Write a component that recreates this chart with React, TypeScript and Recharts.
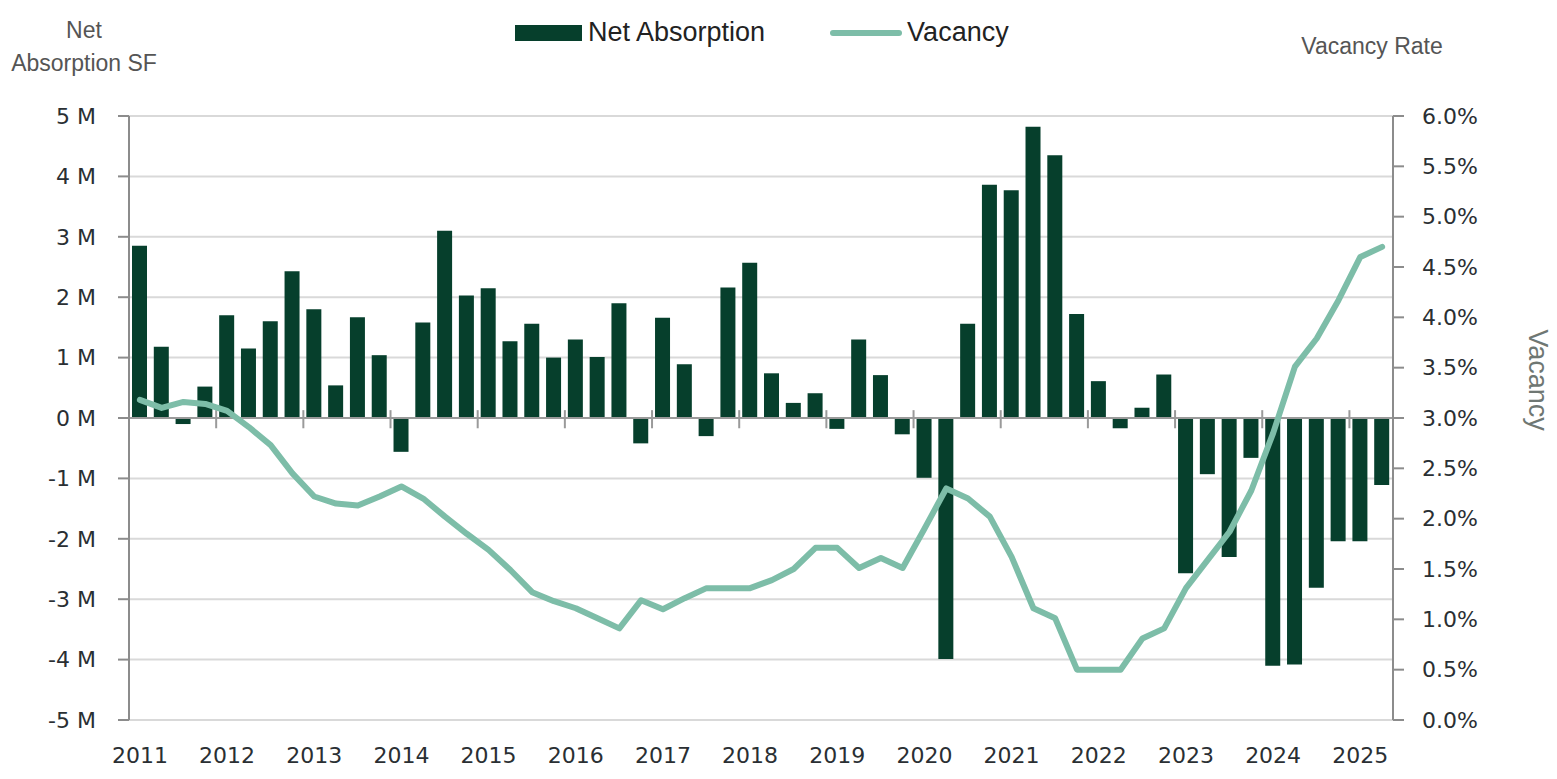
import { ComposedChart, Bar, Line, XAxis, YAxis, CartesianGrid, ReferenceLine } from "recharts"

// quarterly, 2011 Q1 .. 2025 Q2
const YEARS = ["2011", "2012", "2013", "2014", "2015", "2016", "2017", "2018", "2019", "2020", "2021", "2022", "2023", "2024", "2025"]

// net absorption, millions of SF
const NET_ABSORPTION = [
  2.85, 1.18, -0.1, 0.52, // 2011
  1.7, 1.15, 1.6, 2.43, // 2012
  1.8, 0.54, 1.67, 1.04, // 2013
  -0.56, 1.58, 3.1, 2.03, // 2014
  2.15, 1.27, 1.56, 1.0, // 2015
  1.3, 1.01, 1.9, -0.42, // 2016
  1.66, 0.89, -0.3, 2.16, // 2017
  2.57, 0.74, 0.25, 0.41, // 2018
  -0.18, 1.3, 0.71, -0.27, // 2019
  -0.99, -3.99, 1.56, 3.86, // 2020
  3.77, 4.82, 4.35, 1.72, // 2021
  0.61, -0.17, 0.17, 0.72, // 2022
  -2.57, -0.93, -2.3, -0.66, // 2023
  -4.1, -4.08, -2.81, -2.04, // 2024
  -2.04, -1.11, // 2025
]

// vacancy rate, %
const VACANCY = [
  3.18, 3.1, 3.16, 3.14,
  3.07, 2.91, 2.73, 2.45,
  2.22, 2.15, 2.13, 2.22,
  2.32, 2.2, 2.02, 1.85,
  1.69, 1.49, 1.27, 1.18,
  1.11, 1.01, 0.91, 1.19,
  1.1, 1.21, 1.31, 1.31,
  1.31, 1.39, 1.5, 1.71,
  1.71, 1.51, 1.61, 1.51,
  1.9, 2.3, 2.2, 2.02,
  1.62, 1.11, 1.01, 0.5,
  0.5, 0.5, 0.81, 0.91,
  1.31, 1.59, 1.87, 2.28,
  2.85, 3.51, 3.79, 4.17,
  4.6, 4.7,
]

const LEFT_TICKS = [-5, -4, -3, -2, -1, 0, 1, 2, 3, 4, 5]
const RIGHT_TICKS = [0, 0.5, 1, 1.5, 2, 2.5, 3, 3.5, 4, 4.5, 5, 5.5, 6]

const BAR_COLOR = "#063f2c"
const LINE_COLOR = "#7dbda8"
const TICK_FONT = "'DejaVu Sans', sans-serif"
const TITLE_FONT = "'Liberation Sans', Arial, sans-serif"

const data = NET_ABSORPTION.map((v, i) => ({ x: i + 0.5, absorption: v, vacancy: VACANCY[i] }))
const labelTicks = YEARS.map((_, i) => i * 4 + 0.5)
const yearBounds = YEARS.slice(1).map((_, i) => (i + 1) * 4)

const tickStyle = { fill: "#2a2f33", fontSize: 22, fontFamily: TICK_FONT }

export default function App() {
  return (
    <div style={{ position: "absolute", left: 0, top: 0, width: 1557, height: 779, background: "#fff" }}>
      <div style={{ position: "absolute", left: 0, top: 14, width: 168, textAlign: "center", fontFamily: TITLE_FONT, fontSize: 23, lineHeight: "33px", color: "#555" }}>
        Net
        <br />
        Absorption SF
      </div>
      <div style={{ position: "absolute", left: 1272, top: 33, width: 200, textAlign: "center", fontFamily: TITLE_FONT, fontSize: 23, color: "#555" }}>
        Vacancy Rate
      </div>
      <div
        style={{
          position: "absolute",
          left: 1537,
          top: 380,
          transform: "translate(-50%, -50%) rotate(90deg)",
          fontFamily: TITLE_FONT,
          fontSize: 27,
          color: "#6f7773",
          whiteSpace: "nowrap",
        }}
      >
        Vacancy
      </div>
      <div style={{ position: "absolute", left: 515, top: 17, display: "flex", alignItems: "center", fontFamily: TITLE_FONT, fontSize: 27, color: "#222" }}>
        <svg width={67} height={16} style={{ marginRight: 6 }}>
          <rect x={0} y={0} width={67} height={16} fill={BAR_COLOR} />
        </svg>
        <span>Net Absorption</span>
        <svg width={72} height={10} style={{ marginLeft: 65, marginRight: 5 }}>
          <line x1={3} y1={5} x2={69} y2={5} stroke={LINE_COLOR} strokeWidth={6} strokeLinecap="round" />
        </svg>
        <span>Vacancy</span>
      </div>
      <ComposedChart width={1557} height={779} data={data} margin={{ top: 116, right: 84, bottom: 19, left: 49 }}>
        <CartesianGrid yAxisId="left" vertical={false} stroke="#d9d9d9" strokeWidth={2} />
        <XAxis
          dataKey="x"
          type="number"
          domain={[0, NET_ABSORPTION.length]}
          ticks={labelTicks}
          tickFormatter={(v: number) => YEARS[Math.round((v - 0.5) / 4)]}
          axisLine={false}
          tickLine={false}
          tickSize={0}
          tickMargin={27}
          height={40}
          interval={0}
          tick={tickStyle}
        />
        <YAxis
          yAxisId="left"
          domain={[-5, 5]}
          ticks={LEFT_TICKS}
          tickFormatter={(v: number) => `${v} M`}
          width={80}
          axisLine={{ stroke: "#8c8c8c", strokeWidth: 2 }}
          tickLine={{ stroke: "#8c8c8c", strokeWidth: 2 }}
          tickSize={11}
          tickMargin={22}
          tick={tickStyle}
        />
        <YAxis
          yAxisId="right"
          orientation="right"
          domain={[0, 6]}
          ticks={RIGHT_TICKS}
          tickFormatter={(v: number) => `${v.toFixed(1)}%`}
          width={80}
          axisLine={{ stroke: "#8c8c8c", strokeWidth: 2 }}
          tickLine={{ stroke: "#8c8c8c", strokeWidth: 2 }}
          tickSize={11}
          tickMargin={18}
          tick={tickStyle}
        />
        <Bar yAxisId="left" dataKey="absorption" name="Net Absorption" fill={BAR_COLOR} barSize={15} isAnimationActive={false} />
        <ReferenceLine yAxisId="left" y={0} stroke="#9a9a9a" strokeWidth={2} />
        {yearBounds.map((b) => (
          <ReferenceLine
            key={b}
            yAxisId="left"
            segment={[{ x: b, y: -0.17 }, { x: b, y: 0.13 }]}
            stroke="#9a9a9a"
            strokeWidth={2}
          />
        ))}
        <Line
          yAxisId="right"
          dataKey="vacancy"
          name="Vacancy"
          type="linear"
          stroke={LINE_COLOR}
          strokeWidth={6}
          strokeLinejoin="round"
          strokeLinecap="round"
          dot={false}
          isAnimationActive={false}
        />
      </ComposedChart>
    </div>
  )
}
